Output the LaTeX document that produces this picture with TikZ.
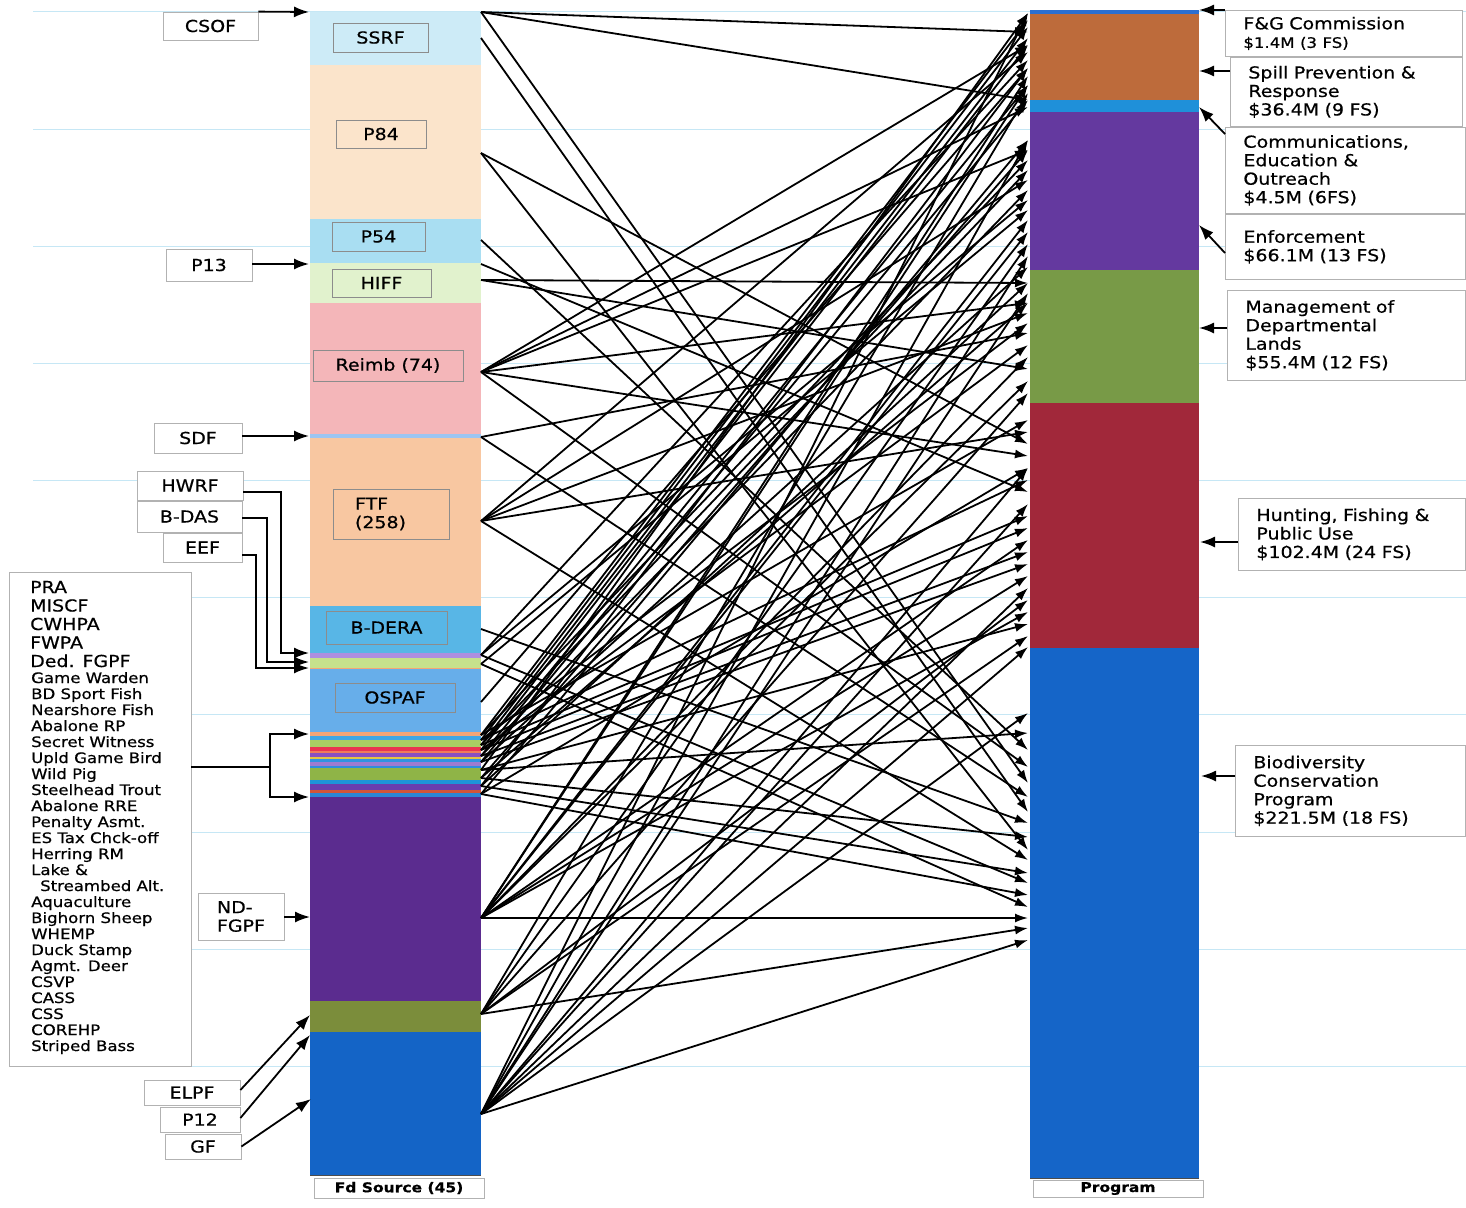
\documentclass[tikz,border=0pt]{standalone}
\usepackage{fontspec}
\setmainfont{DejaVu Sans}[FakeStretch=1.15, FakeBold=0.6]
\usetikzlibrary{arrows.meta, positioning}

% colours of the fund bar
\definecolor{ruleC}{HTML}{C6E7F5}
\definecolor{ssrfC}{HTML}{CDEBF7}
\definecolor{p84C}{HTML}{FBE4CB}
\definecolor{p54C}{HTML}{A9DEF2}
\definecolor{hiffC}{HTML}{E1F2CD}
\definecolor{reimbC}{HTML}{F4B6B9}
\definecolor{sdfC}{HTML}{9CC5F2}
\definecolor{ftfC}{HTML}{F8C7A1}
\definecolor{bderaC}{HTML}{58B6E6}
\definecolor{lavC}{HTML}{AE8FE0}
\definecolor{limeC}{HTML}{C6E18C}
\definecolor{ospafC}{HTML}{67AEEA}
\definecolor{stOr}{HTML}{F4A576}
\definecolor{stBl}{HTML}{41A6E4}
\definecolor{stGr}{HTML}{A9CF63}
\definecolor{stRd}{HTML}{EA3550}
\definecolor{stPk}{HTML}{F07A5A}
\definecolor{stPu}{HTML}{8A4FC0}
\definecolor{stYe}{HTML}{E5C543}
\definecolor{stBb}{HTML}{3192E0}
\definecolor{stLv}{HTML}{9E7BD0}
\definecolor{stBc}{HTML}{2F8DDC}
\definecolor{stGg}{HTML}{8FB447}
\definecolor{stBd}{HTML}{1E94D8}
\definecolor{stPp}{HTML}{6A3DAE}
\definecolor{stRo}{HTML}{D2553A}
\definecolor{stBe}{HTML}{2C86D6}
\definecolor{ndC}{HTML}{5B2C8F}
\definecolor{oliveC}{HTML}{7B8D3B}
\definecolor{gfC}{HTML}{1464C6}
% colours of the program bar
\definecolor{topC}{HTML}{2B6FD1}
\definecolor{spillC}{HTML}{BD6B3B}
\definecolor{commC}{HTML}{1F90D9}
\definecolor{enfC}{HTML}{64399F}
\definecolor{mgmtC}{HTML}{789A47}
\definecolor{huntC}{HTML}{A1283A}
\definecolor{bioC}{HTML}{1565C8}

\newcommand{\tagfont}{\fontsize{16.5}{18.5}\selectfont}
\newcommand{\itemfont}{\fontsize{14.4}{16}\selectfont}
\newcommand{\legfont}{\bfseries\fontsize{13.5}{15}\selectfont}

\tikzset{
  tag/.style={draw=black!45, line width=0.8pt, inner sep=0pt, font=\tagfont},
  srcbox/.style={draw=black!30, fill=white, line width=0.8pt, inner sep=0pt, font=\tagfont},
  prgbox/.style={draw=black!30, fill=white, line width=0.8pt, anchor=north west, align=left,
    inner xsep=18pt, inner ysep=0pt, font=\tagfont},
  feed/.style={line width=1.8pt, -{Latex[length=15pt, width=11pt]}},
  flow/.style={line width=1.8pt, -{Latex[length=13pt, width=9pt]}},
  rule/.style={ruleC, line width=1pt},
}

\begin{document}
\begin{tikzpicture}[x=1pt, y=-1pt]
\useasboundingbox (0,0) rectangle (1466,1207);
\fill[white] (0,0) rectangle (1466,1207);

% ruled paper
\foreach \y in {12,129,246,363,480,597,714,832,949,1066}
  \draw[rule] (33,\y) -- (1466,\y);

% fund source bar
\foreach \ya/\yb/\c in {12/65/ssrfC, 65/219/p84C, 219/263/p54C, 263/303/hiffC, 303/434/reimbC,
    434/438/sdfC, 438/606/ftfC, 606/653/bderaC, 653/658/lavC, 658/668/limeC, 668/669/stOr,
    669/732/ospafC, 732/736/stOr, 736/740/stBl, 740/747/stGr, 747/751/stRd, 751/753/stPk,
    753/757/stPu, 757/759/stYe, 759/762/stBb, 762/766/stLv, 766/768/stBc, 768/780/stGg,
    780/784/stBd, 784/790/stPp, 790/793/stRo, 793/797/stBe, 797/1001/ndC, 1001/1032/oliveC,
    1032/1175/gfC}
  \fill[\c] (310,\ya) rectangle (481,\yb);
\draw[black!70, line width=0.8pt] (310,1175) -- (481,1175);

% program bar
\foreach \ya/\yb/\c in {10/14/topC, 14/100/spillC, 100/112/commC, 112/270/enfC,
    270/403/mgmtC, 403/648/huntC, 648/1178/bioC}
  \fill[\c] (1030,\ya) rectangle (1199,\yb);
\draw[black!70, line width=0.8pt] (1030,1178) -- (1199,1178);

% fund labels in the bar
\node[tag, minimum width=95pt, minimum height=29pt] (ssrf) at (380.5,37.5) {SSRF};
\node[tag, minimum width=90pt, minimum height=28pt] (p84) at (381,134) {P84};
\node[tag, minimum width=93pt, minimum height=29pt] (p54) at (378.5,236.5) {P54};
\node[tag, minimum width=99pt, minimum height=28pt] (hiff) at (381.5,283) {HIFF};
\node[tag, minimum width=150pt, minimum height=31pt] (reimb) at (388,365.5) {Reimb (74)};
\node[tag, minimum width=116pt, minimum height=50pt, align=left, text width=72pt] (ftf) at (391,514) {FTF\\(258)};
\node[tag, minimum width=121pt, minimum height=33pt] (bdera) at (386.5,627.5) {B-DERA};
\node[tag, minimum width=120pt, minimum height=29pt] (ospaf) at (395,697.5) {OSPAF};

\node[srcbox, font=\legfont, minimum width=170pt, minimum height=20pt] (fdsrc) at (399,1188) {Fd Source (45)};
\node[srcbox, font=\legfont, minimum width=170pt, minimum height=17pt] (prog) at (1118,1188.5) {Program};

% where the flows leave the fund bar
\coordinate (ssrf-a) at (481,12);
\coordinate (ssrf-b) at (481,38);
\coordinate (p84-o) at (481,153);
\coordinate (p54-o) at (481,240);
\coordinate (hiff-a) at (481,264);
\coordinate (hiff-b) at (481,280);
\coordinate (reimb-o) at (481,372);
\coordinate (sdf-o) at (481,437);
\coordinate (ftf-o) at (481,521);
\coordinate (bdera-o) at (481,629);
\coordinate (lav-o) at (481,655);
\coordinate (lime-o) at (481,664);
\coordinate (ospaf-o) at (481,702);
\foreach \y [count=\i] in {735,740,745,750,756,762,770,778,786,794}
  \coordinate (st\i) at (481,\y);
\coordinate (nd-o) at (481,918);
\coordinate (olive-o) at (481,1014);
\coordinate (gf-o) at (481,1114);

% where they reach the program bar
\foreach \y in {13,20,27,32,38,45,52,60,68,76,85,93,100,107,140,150,160,170,180,190,200,210,
    220,232,244,256,267,283,293,303,313,323,333,345,357,369,381,393,420,432,444,456,468,480,
    492,504,516,528,540,552,564,576,588,600,612,624,636,647,713,733,750,767,783,797,812,823,
    837,850,860,873,883,895,907,918,928,940}
  \coordinate (t\y) at (1028,\y);

% fund -> program flows
\foreach \s/\t in {ssrf-a/32, ssrf-a/100, ssrf-a/783, ssrf-b/812, p84-o/444, p84-o/850,
    p54-o/750, hiff-a/492, hiff-b/283, hiff-b/369,
    reimb-o/45, reimb-o/107, reimb-o/150, reimb-o/303, reimb-o/456, reimb-o/767,
    sdf-o/333, sdf-o/797, ftf-o/52, ftf-o/180, ftf-o/313, ftf-o/432, ftf-o/860,
    bdera-o/823, lav-o/60, lav-o/200, lav-o/883, lime-o/210, lime-o/907, ospaf-o/68,
    st1/20, st1/160, st1/420, st2/27, st2/323, st2/480, st3/38, st3/170, st3/516,
    st4/45, st4/345, st4/528, st5/190, st5/552, st5/85, st6/267, st6/564, st6/100,
    st7/624, st7/13, st7/733, st8/150, st8/837, st8/303, st9/873, st9/283, st9/68,
    st10/895, st10/140, st10/468,
    nd-o/76, nd-o/85, nd-o/220, nd-o/232, nd-o/357, nd-o/381, nd-o/540, nd-o/576, nd-o/612, nd-o/918,
    olive-o/93, olive-o/244, olive-o/393, olive-o/600, olive-o/636, olive-o/928,
    gf-o/13, gf-o/140, gf-o/256, gf-o/293, gf-o/468, gf-o/504, gf-o/588, gf-o/647, gf-o/940, gf-o/713}
  \draw[flow] (\s) -- (t\t);

% funds feeding the bar
\node[srcbox, minimum width=95pt, minimum height=28pt] (csof) at (210.5,26) {CSOF};
\node[srcbox, minimum width=86pt, minimum height=32pt] (p13) at (209,265) {P13};
\node[srcbox, minimum width=88pt, minimum height=30pt] (sdf) at (198,438) {SDF};
\node[srcbox, minimum width=106pt, minimum height=29pt] (hwrf) at (190,485.5) {HWRF};
\node[srcbox, minimum width=105pt, minimum height=31pt] (bdas) at (189.5,516.5) {B-DAS};
\node[srcbox, minimum width=79pt, minimum height=29pt] (eef) at (202.5,547.5) {EEF};
\node[srcbox, minimum width=86pt, minimum height=47pt, align=left] (ndfgpf) at (241,916.5) {ND-\\FGPF};
\node[srcbox, minimum width=96pt, minimum height=25pt] (elpf) at (192,1092.5) {ELPF};
\node[srcbox, minimum width=80pt, minimum height=25pt] (p12) at (200,1119.5) {P12};
\node[srcbox, minimum width=76pt, minimum height=25pt] (gf) at (203,1146.5) {GF};
\node[srcbox, minimum width=182pt, minimum height=494pt] (srclist) at (100,819) {};

\foreach \txt [count=\i from 0] in {PRA, MISCF, CWHPA, FWPA, Ded. FGPF}
  \node[anchor=base west, inner sep=0pt, font=\tagfont] (lst-a\i) at (30,{593+18.5*\i}) {\txt};
\foreach \txt [count=\i from 0] in {Game Warden, BD Sport Fish, Nearshore Fish, Abalone RP,
    Secret Witness, Upld Game Bird, Wild Pig, Steelhead Trout, Abalone RRE, Penalty Asmt.,
    ES Tax Chck-off, Herring RM, Lake \&, \hspace{9pt}Streambed Alt., Aquaculture,
    Bighorn Sheep, WHEMP, Duck Stamp, Agmt. Deer, CSVP, CASS, CSS, COREHP, Striped Bass}
  \node[anchor=base west, inner sep=0pt, font=\itemfont] (lst-b\i) at (31,{683+16*\i}) {\txt};

\coordinate (fd-csof) at (309,12);
\coordinate (fd-p13) at (309,264);
\coordinate (fd-sdf) at (309,436);
\coordinate (fd-hwrf) at (309,653);
\coordinate (fd-bdas) at (309,662);
\coordinate (fd-eef) at (309,668);
\coordinate (fork) at (270,767);
\coordinate (fd-lista) at (309,734);
\coordinate (fd-listb) at (309,797);
\coordinate (fd-nd) at (310,917);
\coordinate (fd-elpf) at (310,1015);
\coordinate (fd-p12) at (310,1035);
\coordinate (fd-gf) at (311,1099);

\draw[feed] (csof.north east) -- (fd-csof);
\draw[feed] (p13.east |- fd-p13) -- (fd-p13);
\draw[feed] (sdf.east |- fd-sdf) -- (fd-sdf);
\draw[feed] ([yshift=-6.5pt]hwrf.east) -| ([xshift=-28pt]fd-hwrf) -- (fd-hwrf);
\draw[feed] ([yshift=-1.5pt]bdas.east) -| ([xshift=-42pt]fd-bdas) -- (fd-bdas);
\draw[feed] ([yshift=-7.5pt]eef.east) -| ([xshift=-53pt]fd-eef) -- (fd-eef);
\draw[line width=1.8pt] (srclist.east |- fork) -- (fork);
\draw[feed] (fork) |- (fd-lista);
\draw[feed] (fork) |- (fd-listb);
\draw[feed] (ndfgpf.east |- fd-nd) -- (fd-nd);
\draw[feed] ([yshift=2.5pt]elpf.east) -- (fd-elpf);
\draw[feed] ([yshift=1.5pt]p12.east) -- (fd-p12);
\draw[feed] (gf.east) -- (fd-gf);

% program labels
\node[prgbox, text width=201pt, minimum height=46pt] (fgc) at (1225,10)
  {F\&G Commission\\{\itemfont \$1.4M (3 FS)}};
\node[prgbox, text width=196pt, minimum height=69pt] (spill) at (1230,57)
  {Spill Prevention \&\\Response\\\$36.4M (9 FS)};
\node[prgbox, text width=204pt, minimum height=86pt] (comm) at (1225,127)
  {Communications,\\Education \&\\Outreach\\\$4.5M (6FS)};
\node[prgbox, text width=204pt, minimum height=65pt] (enf) at (1225,214)
  {Enforcement\\\$66.1M (13 FS)};
\node[prgbox, text width=202pt, minimum height=90pt] (mgmt) at (1227,290)
  {Management of\\Departmental\\Lands\\\$55.4M (12 FS)};
\node[prgbox, text width=191pt, minimum height=72pt] (hunt) at (1238,498)
  {Hunting, Fishing \&\\Public Use\\\$102.4M (24 FS)};
\node[prgbox, text width=194pt, minimum height=91pt] (bio) at (1235,745)
  {Biodiversity\\Conservation\\Program\\\$221.5M (18 FS)};

\coordinate (in-fgc) at (1199,10);
\coordinate (in-spill) at (1199,71);
\coordinate (in-comm) at (1199,107);
\coordinate (in-enf) at (1199,225);
\coordinate (in-mgmt) at (1199,328);
\coordinate (in-hunt) at (1200,542);
\coordinate (in-bio) at (1201,776);

\draw[feed] (fgc.north west) -- (in-fgc);
\draw[feed] (spill.west |- in-spill) -- (in-spill);
\draw[feed] ([yshift=-7pt]comm.north west) -- (in-comm);
\draw[feed] ([yshift=-39pt]enf.north west) -- (in-enf);
\draw[feed] (mgmt.west |- in-mgmt) -- (in-mgmt);
\draw[feed] (hunt.west |- in-hunt) -- (in-hunt);
\draw[feed] (bio.west |- in-bio) -- (in-bio);
\end{tikzpicture}
\end{document}
